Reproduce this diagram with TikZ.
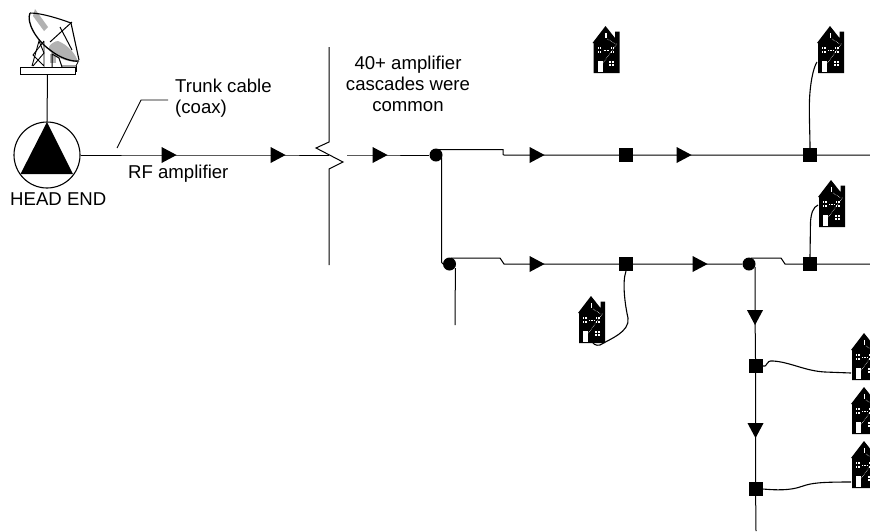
\documentclass[tikz,border=0pt]{standalone}
\usepackage{fontspec}
\setmainfont{Liberation Sans}
\usetikzlibrary{shapes.geometric}
\tikzset{
  x=1pt,y=-1pt,
  wire/.style={line width=1pt,black},
  drop/.style={line width=1.1pt,black},
  ampright/.style={isosceles triangle,isosceles triangle apex angle=60,isosceles triangle stretches,fill=black,draw=none,inner sep=0pt,minimum height=15pt,minimum width=16pt,shape border rotate=0,anchor=apex},
  ampdown/.style={ampright,shape border rotate=-90},
  tapsq/.style={rectangle,fill=black,draw=none,inner sep=0pt,minimum size=14pt},
  tapdot/.style={circle,fill=black,draw=none,inner sep=0pt,minimum size=13pt},
  lbl/.style={inner sep=0pt,font=\fontsize{18.6pt}{21pt}\selectfont,text=black},
  house/.pic={
    \fill[black] (1,47) -- (1,17) -- (0,17) -- (13,0) -- (22.5,12) -- (22.5,5.7) -- (27,5.7) -- (27,47) -- cycle;
    \fill[white] (5,34.7) rectangle (10,46);
    \fill[white] (12.8,7) rectangle (14.3,12);
    \foreach \wx in {5,7.3,18,20.3}{\fill[white] (\wx,21) rectangle +(1.4,2.4); \fill[white] (\wx,24.6) rectangle +(1.4,2.4);}
    \foreach \wx in {16.5,19.5}{\fill[white] (\wx,35) rectangle +(2,2.2); \fill[white] (\wx,38.2) rectangle +(2,2.2);}
    \draw[white,line width=.55pt,densely dotted] (10.5,37) -- (25,17);
    \draw[white,line width=.55pt,densely dotted] (11,24) -- (17,24);
    \draw[white,line width=.55pt,densely dotted] (15,13) -- (23,18);
  }
}
\begin{document}
\begin{tikzpicture}
\useasboundingbox (0,0) rectangle (870,531);
\clip (0,0) rectangle (870,531);
\fill[white] (0,0) rectangle (870,531);

% houses
\pic at (592.5,26) {house};
\pic at (817,26) {house};
\pic at (818,180) {house};
\pic at (578,296) {house};
\pic at (851,333) {house};
\pic at (851,387) {house};
\pic at (851,441) {house};

% head end and dish
\node[circle,draw=black,line width=1.1pt,minimum size=66pt,inner sep=0pt] (he) at (47,155) {};
\fill[black] (47,122) -- (73,174) -- (20.5,174) -- cycle;
\node[rectangle,draw=black,line width=1pt,fill=white,minimum width=55pt,minimum height=7pt,inner sep=0pt] (base) at (47.5,70.5) {};
\draw[wire] (base.south) -- (he.north);
% dish drawing
\fill[gray!60] (49,47) .. controls (50,44) and (55,41) .. (58,41) .. controls (68,45) and (76,54) .. (78,62) .. controls (68,62) and (55,58) .. (49,50) -- cycle;
\fill[gray!60] (35,9) -- (48,27) -- (44,31) -- (33,16) -- cycle;
\fill[gray!60] (50,54) rectangle (56,63);
\draw[line width=1.3pt] (30,13) .. controls (26,22) and (36,40) .. (50,50) .. controls (60,58) and (72,62) .. (79,61);
\draw[line width=1.1pt] (30,13) .. controls (42,13) and (60,19) .. (71,23) -- (79,60);
\draw[line width=1pt] (50,42) -- (72,22);
\draw[line width=1pt] (60,27) -- (72,50);
\draw[line width=.9pt] (32,66) -- (39,41) -- (44,53) -- (33,66);
\draw[line width=.9pt] (44,41) -- (33,55) -- (44,66) -- (44,41);
\draw[line width=1pt] (52,67) -- (52,54) -- (59,58) -- (62,67);
\draw[line width=.8pt] (62,66) -- (76,66) -- (78,62);
\draw[line width=.8pt] (76,66) -- (76,71) -- (75,71);

% main trunk
\node[ampright] (a1) at (177,155) {};
\node[ampright] (a2) at (286,155) {};
\coordinate (brk) at (329,155);
\coordinate (resume) at (347,155);
\node[ampright] (a3) at (388,155) {};
\node[tapdot] (t1) at (436,155) {};
\node[ampright] (a4) at (545,155) {};
\node[tapsq] (s1) at (626,155) {};
\node[ampright] (a5) at (692,155) {};
\node[tapsq] (s2) at (810,155) {};
\coordinate (endA) at (870,155);
\coordinate (b1a) at (438,149.5);
\coordinate (b1b) at (504,155);
\draw[wire] (he.east) -- (a1.west) -- (a2.west) -- (brk);
\draw[wire] (resume) -- (a3.west) -- (t1.west);
\draw[wire] (b1a) -- (503,149.5) -- (503,154.5) -- (b1b) -- (a4.west) -- (s1.west) -- (a5.west) -- (s2.west) -- (endA);

% break symbol
\coordinate (brkT) at (329,47);
\coordinate (brkB) at (329,265);
\draw[wire,line join=miter] (brkT) -- (329,142) -- (316,148) -- (343,162) -- (329,169) -- (brkB);

% second trunk
\node[tapdot] (t2) at (449.5,264) {};
\node[ampright] (a6) at (545,264) {};
\node[tapsq] (s3) at (626,264) {};
\node[ampright] (a7) at (708,264) {};
\node[tapdot] (t3) at (749,264) {};
\node[tapsq] (s4) at (810,264) {};
\coordinate (endB) at (870,264);
\draw[wire] (441.5,158) -- (441.5,262) -- (t2.west);
\draw[wire] (451,258) -- (500,258) -- (504,264) -- (a6.west) -- (s3.west) -- (a7.west) -- (t3.west);
\draw[wire] (751,258) -- (781,258) -- (785,264) -- (s4.west) -- (endB);
\coordinate (stubB) at (455,325);
\draw[wire] (455.4,268) -- (stubB);

% third trunk
\node[ampdown] (a8) at (755,325.5) {};
\node[tapsq] (s5) at (755.5,366) {};
\node[ampdown] (a9) at (755.5,438.5) {};
\node[tapsq] (s6) at (755.5,489) {};
\coordinate (endC) at (756,531);
\draw[wire] (755,267) -- (a8.north) -- (s5.north) -- (a9.north) -- (s6.north) -- (endC);

% drops to houses
\draw[drop] (s2.north) .. controls (810,135) and (809,115) .. (809.5,100) .. controls (810,85) and (813,68) .. (817,62);
\draw[drop] (s4.north) -- (810.5,222) .. controls (811,214) and (813,207) .. (818,205);
\draw[drop] (s3.south) .. controls (622,282) and (625,305) .. (628,318) .. controls (630,332) and (610,339) .. (600,345) .. controls (596,346) and (592,344) .. (592,340);
\draw[drop] (s5.east) .. controls (768,368) and (765,360) .. (773,361) .. controls (790,362) and (805,371) .. (825,372) -- (851,373);
\draw[drop] (s6.east) .. controls (775,490) and (790,491) .. (803,486) .. controls (812,483) and (820,482) .. (851,482);

% labels
\node[lbl,align=left,anchor=north west] (ltrunk) at (175,78.5) {Trunk cable\\(coax)};
\coordinate (leadA) at (117,148);
\coordinate (leadB) at (141,100);
\coordinate (leadC) at (168,100);
\draw[line width=.9pt] (leadA) -- (leadB) -- (leadC);
\node[lbl,align=center,anchor=north] (lamp) at (408,56) {40+ amplifier\\cascades were\\common};
\node[lbl,anchor=west] (lrf) at (128,174) {RF amplifier};
\node[lbl,anchor=west] (lhe) at (10,199) {HEAD END};
\end{tikzpicture}
\end{document}
